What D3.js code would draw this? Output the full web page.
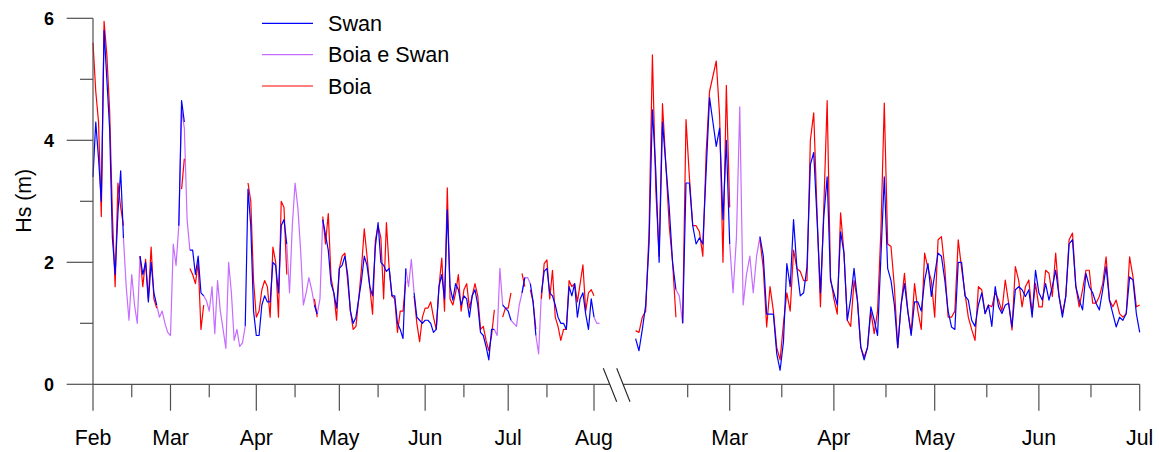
<!DOCTYPE html>
<html>
<head>
<meta charset="utf-8">
<script src="https://cdn.jsdelivr.net/npm/d3@7"></script>
<style>
  html, body { margin: 0; padding: 0; background: #fff; }
  svg { display: block; font-family: "Liberation Sans", Arial, sans-serif; }
</style>
</head>
<body>
<svg id="chart" width="1159" height="452"></svg>
<script>
const _ = null;

// Daily significant wave height (m). First period starts 1 Feb 2009, second 1 Feb 2010.
const start1 = "2009-02-01";
const start2 = "2010-02-01";

// ---- first period (Feb - Aug 2009) ----
const swan1 = [
  3.4, 4.3, 3.7, 3.0, 5.8, 5.0, 4.2, 2.4, 1.8, 2.8,
  3.5, 2.4, _, _, _, _, _, 2.1, 1.8, 2.0,
  1.35, 2.0, 1.5, 1.3, _, _, _, _, _, _,
  _, 2.6, 4.65, 4.3, _, 2.2, 2.2, 1.8, 2.1, 1.5,
  1.45, _, _, _, _, _, _, _, _, _,
  _, _, _, _, _, 0.95, 3.2, 2.6, 1.2, 0.8,
  0.8, 1.3, 1.45, 1.35, 1.35, 2.0, 1.95, 1.5, 2.6, 2.7,
  2.3, _, _, _, _, _, _, _, _, _,
  1.3, 1.15, _, 2.7, 2.45, 2.2, 1.65, 1.5, 1.25, 1.9,
  1.95, 2.1, 1.8, 1.2, 1.0, 1.1, 1.4, 1.7, 2.1, 1.95,
  1.6, 1.45, 2.25, 2.65, 2.0, 1.95, 1.85, 1.9, 1.45, 1.45,
  1.0, 0.9, 0.75, 1.9, _, _, 1.5, 1.1, 1.05, 1.0,
  1.05, 1.05, 1.0, 0.85, 0.9, 1.6, 1.8, 1.4, 2.86, 1.6,
  1.38, 1.65, 1.55, 1.3, 1.45, 1.4, 1.1, 1.45, 1.55, 1.3,
  0.85, 0.8, 0.62, 0.4, 0.9, 0.9, _, _, 1.3, 1.25,
  1.2, 1.05, _, _, _, 1.5, 1.75, _, 1.65, 1.35,
  0.8, _, 1.5, 1.85, 1.9, 1.5, 1.45, 1.3, 1.1, 1.0,
  1.0, 0.9, 1.6, 1.45, 1.65, 1.1, 1.4, 1.5, 1.15, 0.9,
  1.4, 1.1, _, _
];
const boia1 = [
  5.6, 4.8, 4.3, 2.75, 5.95, 5.4, 4.5, 2.8, 1.6, 3.3,
  2.9, 2.6, _, _, _, _, _, 2.1, 1.6, 2.05,
  1.4, 2.25, 1.4, 1.25, _, _, _, _, _, _,
  _, _, 3.2, 3.7, _, 1.9, 1.8, 1.65, 2.0, 0.9,
  1.3, _, _, _, _, _, _, _, _, _,
  _, _, _, _, _, _, 3.3, 3.0, 1.7, 1.1,
  1.2, 1.55, 1.7, 1.6, 1.1, 2.25, 2.0, 1.1, 3.0, 2.9,
  1.8, _, _, _, _, _, _, _, _, _,
  1.4, 1.1, _, 2.75, 2.3, 2.8, 1.75, 1.5, 1.05, 1.9,
  2.1, 2.15, 1.7, 1.2, 0.9, 0.95, 1.4, 1.9, 2.55, 2.1,
  1.6, 1.15, 2.35, 2.6, 2.4, 1.4, 2.65, 1.9, 1.45, 1.4,
  0.85, 1.2, 1.2, 1.7, _, _, 1.45, 1.0, 0.7, 1.1,
  1.25, 1.25, 1.35, 1.1, 0.9, 1.6, 2.07, 1.2, 3.22, 1.4,
  1.3, 1.5, 1.8, 1.2, 1.55, 1.65, 1.25, 1.45, 1.65, 1.45,
  0.9, 0.95, 0.72, 0.55, 0.8, 1.22, _, _, 1.1, 1.25,
  1.25, 1.5, _, _, _, 1.82, 1.6, _, 1.55, 1.35,
  0.9, _, 1.4, 1.98, 2.04, 1.4, 1.87, 1.1, 0.95, 0.72,
  0.9, 0.9, 1.7, 1.6, 1.65, 1.35, 1.65, 1.96, 1.2, 1.5,
  1.55, 1.45, _, _
];
const both1 = [
  _, _, _, _, _, _, _, _, _, _,
  _, 2.4, 1.6, 1.05, 1.8, 1.3, 1.0, 2.1, _, _,
  _, _, _, 1.3, 1.1, 1.2, 1.0, 0.85, 0.8, 2.3,
  1.95, 2.6, 4.5, 4.2, 2.7, 2.2, _, _, _, _,
  1.45, 1.37, 1.2, 1.6, 0.83, 1.7, 1.2, 0.9, 0.59, 2.0,
  1.5, 0.72, 0.9, 0.62, 0.68, 0.95, _, _, _, _,
  _, _, _, _, _, _, _, _, _, _,
  2.3, 1.5, 2.6, 3.3, 2.9, 2.2, 1.3, 1.5, 1.75, 1.55,
  1.3, 1.15, 1.4, 2.7, _, _, _, _, _, _,
  _, _, _, _, _, _, _, _, _, _,
  _, _, _, _, _, _, _, _, _, _,
  _, _, _, 1.9, 1.6, 2.05, 1.5, _, _, _,
  _, _, _, _, _, _, _, _, _, _,
  _, _, _, _, _, _, _, _, _, _,
  _, _, _, _, _, 0.9, 0.8, 1.9, 1.3, _,
  _, 1.05, 1.0, 0.95, 1.3, 1.5, 1.75, 1.75, 1.65, _,
  0.8, 0.5, 1.5, _, _, _, _, _, _, _,
  _, _, _, _, _, _, _, _, _, _,
  _, 1.1, 1.0, 1.0
];

// ---- second period (Feb - Jul 2010) ----
const swan2 = [
  0.75, 0.55, 0.9, 1.3, 2.3, 4.5, 3.5, 2.0, 4.3, 3.6,
  2.9, 2.0, 1.55, _, 1.0, 3.3, 3.3, 2.6, 2.3, 2.4,
  2.3, 3.5, 4.7, 4.3, 3.9, 4.2, 2.7, 4.0, 2.3, _,
  _, _, _, _, _, _, _, 2.42, 2.1, 1.15,
  1.15, 1.15, 0.5, 0.23, 0.7, 1.98, 1.6, 2.7, 1.9, 1.45,
  1.5, 1.93, 3.6, 3.8, 2.7, 1.5, 2.75, 3.4, 1.7, 1.5,
  1.3, 2.5, 2.15, 1.05, 1.4, 1.9, 1.38, 0.61, 0.4, 0.6,
  1.27, 1.05, 0.8, 2.1, 3.4, 1.9, 1.7, 1.3, 0.6, 1.3,
  1.65, 1.2, 0.8, 1.35, 1.35, 1.2, 1.7, 1.98, 1.44, 1.8,
  2.15, 2.1, 1.71, 1.2, 0.94, 0.9, 2.0, 2.0, 1.45, 1.38,
  1.05, 0.95, 1.3, 1.5, 1.16, 1.3, 0.95, 1.6, 1.27, 1.16,
  1.3, 1.33, 0.94, 1.55, 1.6, 1.55, 1.44, 1.55, 1.1, 1.87,
  1.5, 1.38, 1.65, 1.38, 1.6, 1.87, 1.44, 1.1, 1.44, 2.3,
  2.37, 1.6, 1.38, 1.22, 1.82, 1.6, 1.5, 1.33, 1.22, 1.55,
  1.93, 1.38, 1.16, 0.94, 1.1, 1.05, 1.16, 1.76, 1.71, 1.16,
  0.85
];
const boia2 = [
  0.88, 0.85, 1.1, 1.2, 2.5, 5.4, 3.2, 2.1, 4.6, 3.6,
  2.6, 2.0, 1.1, _, 1.0, 4.34, 3.4, 2.6, 2.6, 2.5,
  2.1, 3.8, 4.8, 5.05, 5.3, 4.4, 2.0, 4.9, 2.9, _,
  _, _, _, _, _, _, _, 2.37, 1.9, 0.94,
  1.6, 1.2, 0.6, 0.4, 1.0, 1.5, 1.2, 2.2, 1.9, 1.85,
  1.7, 1.7, 4.0, 4.45, 2.8, 1.27, 2.9, 4.65, 1.75, 1.4,
  1.15, 2.81, 2.15, 1.05, 0.95, 1.7, 1.38, 0.61, 0.45, 0.6,
  1.2, 0.83, 1.2, 2.53, 4.61, 2.3, 2.26, 1.6, 0.6, 1.3,
  1.82, 1.2, 0.83, 1.65, 1.2, 0.9, 2.15, 1.9, 1.7, 1.1,
  2.37, 2.42, 1.9, 1.1, 1.1, 1.2, 2.37, 1.9, 1.5, 1.1,
  0.9, 0.72, 1.6, 1.55, 1.16, 1.3, 1.27, 1.5, 1.38, 1.2,
  1.71, 1.33, 0.89, 1.93, 1.7, 1.27, 1.6, 1.71, 1.16, 1.65,
  1.27, 1.27, 1.87, 1.82, 1.44, 2.15, 1.44, 1.16, 1.44, 2.37,
  2.48, 1.6, 1.27, 1.55, 1.87, 1.87, 1.33, 1.33, 1.44, 1.65,
  2.09, 1.38, 1.27, 1.38, 1.16, 1.1, 1.16, 2.09, 1.76, 1.27,
  1.3
];
const both2 = [
  _, _, _, _, _, _, _, _, _, _,
  _, _, 1.55, 1.45, 1.0, _, _, _, _, _,
  _, _, _, _, _, _, _, _, 2.3, 1.5,
  2.4, 4.55, 1.3, 1.8, 2.1, 1.5, 2.1, 2.42
];

// ---- axes ----
const yMajor = [0, 2, 4, 6];
const yMinor = [1, 3, 5];
const months1 = ["2009-02-01", "2009-03-01", "2009-04-01", "2009-05-01", "2009-06-01", "2009-07-01", "2009-08-01"];
const monthLabels1 = ["Feb", "Mar", "Apr", "May", "Jun", "Jul", "Aug"];
const minor1 = ["2009-02-15", "2009-03-15", "2009-04-15", "2009-05-15", "2009-06-15", "2009-07-15"];
const months2 = ["2010-03-01", "2010-04-01", "2010-05-01", "2010-06-01", "2010-07-01"];
const monthLabels2 = ["Mar", "Apr", "May", "Jun", "Jul"];
const minor2 = ["2010-02-16T12:00", "2010-03-16T12:00", "2010-04-16T12:00", "2010-05-16T12:00", "2010-06-16T12:00"];

const legendItems = [
  { label: "Swan", color: "#0000ff" },
  { label: "Boia e Swan", color: "#c66cff" },
  { label: "Boia", color: "#ff0000" }
];

const COLORS = { swan: "#0000ff", both: "#c66cff", boia: "#ff0000" };
const AXIS = "#505050";

const parse = s => new Date(s.length > 10 ? s + ":00Z" : s + "T00:00:00Z");

const svg = d3.select("#chart");

const y = d3.scaleLinear().domain([0, 6]).range([384.3, 18.3]);
const x1 = d3.scaleUtc().domain([parse("2009-02-01"), parse("2009-08-01")]).range([93, 594]);
const x2 = d3.scaleUtc().domain([parse("2010-03-01"), parse("2010-07-01")]).range([729.7, 1139.7]);

function series(start, values) {
  const t0 = parse(start);
  return values.map((v, i) => ({ t: d3.utcDay.offset(t0, i), v }));
}

function drawLine(x, start, values, color) {
  const gen = d3.line()
    .defined(d => d.v != null)
    .x(d => x(d.t))
    .y(d => y(d.v));
  svg.append("path")
    .datum(series(start, values))
    .attr("fill", "none")
    .attr("stroke", color)
    .attr("stroke-width", 1.2)
    .attr("stroke-linejoin", "round")
    .attr("d", gen);
}

// combined series underneath, buoy, then model on top
drawLine(x1, start1, both1, COLORS.both);
drawLine(x2, start2, both2, COLORS.both);
drawLine(x1, start1, boia1, COLORS.boia);
drawLine(x2, start2, boia2, COLORS.boia);
drawLine(x1, start1, swan1, COLORS.swan);
drawLine(x2, start2, swan2, COLORS.swan);

// y axis
const axes = svg.append("g").attr("stroke", AXIS).attr("stroke-width", 1.2).attr("fill", "none");
axes.append("line").attr("x1", 93).attr("x2", 93).attr("y1", y(6)).attr("y2", y(0));
axes.selectAll(".ymaj").data(yMajor).enter().append("line")
  .attr("x1", 66.7).attr("x2", 93).attr("y1", d => y(d)).attr("y2", d => y(d));
axes.selectAll(".ymin").data(yMinor).enter().append("line")
  .attr("x1", 80).attr("x2", 93).attr("y1", d => y(d)).attr("y2", d => y(d));

svg.selectAll(".ylab").data(yMajor).enter().append("text")
  .attr("x", 54).attr("y", d => y(d) + 6.6)
  .attr("text-anchor", "end")
  .attr("font-size", 18).attr("font-weight", "bold")
  .text(d => d);

svg.append("text")
  .attr("transform", "translate(30.7,200.8) rotate(-90)")
  .attr("text-anchor", "middle")
  .attr("font-size", 21.3)
  .text("Hs (m)");

// x axis with a break between the two periods
const y0 = y(0);
const breakA = [[603.3, 368.3], [616.7, 401.7]];
const breakB = [[616.7, 368.3], [630.0, 401.7]];
const crossX = seg => seg[0][0] + (y0 - seg[0][1]) / (seg[1][1] - seg[0][1]) * (seg[1][0] - seg[0][0]);
axes.append("line").attr("x1", 93).attr("x2", crossX(breakA)).attr("y1", y0).attr("y2", y0);
axes.append("line").attr("x1", crossX(breakB)).attr("x2", x2(parse("2010-07-01"))).attr("y1", y0).attr("y2", y0);
[breakA, breakB].forEach(seg => {
  svg.append("line")
    .attr("x1", seg[0][0]).attr("y1", seg[0][1])
    .attr("x2", seg[1][0]).attr("y2", seg[1][1])
    .attr("stroke", "#222").attr("stroke-width", 1.1);
});

function monthTicks(x, majors, minors, labels) {
  axes.selectAll(null).data(majors).enter().append("line")
    .attr("x1", d => x(parse(d))).attr("x2", d => x(parse(d)))
    .attr("y1", y0).attr("y2", 410.7);
  axes.selectAll(null).data(minors).enter().append("line")
    .attr("x1", d => x(parse(d))).attr("x2", d => x(parse(d)))
    .attr("y1", y0).attr("y2", 397.3);
  svg.selectAll(null).data(majors).enter().append("text")
    .attr("x", d => x(parse(d))).attr("y", 445)
    .attr("text-anchor", "middle")
    .attr("font-size", 21.3)
    .text((d, i) => labels[i]);
}
monthTicks(x1, months1, minor1, monthLabels1);
monthTicks(x2, months2, minor2, monthLabels2);

// legend
const legend = svg.append("g");
const legendY = [23.3, 54.7, 86];
legendItems.forEach((item, i) => {
  legend.append("line")
    .attr("x1", 262).attr("x2", 313)
    .attr("y1", legendY[i]).attr("y2", legendY[i])
    .attr("stroke", item.color).attr("stroke-width", 1.2);
  legend.append("text")
    .attr("x", 328).attr("y", legendY[i] + 7.7)
    .attr("font-size", 21.6)
    .text(item.label);
});
</script>
</body>
</html>
